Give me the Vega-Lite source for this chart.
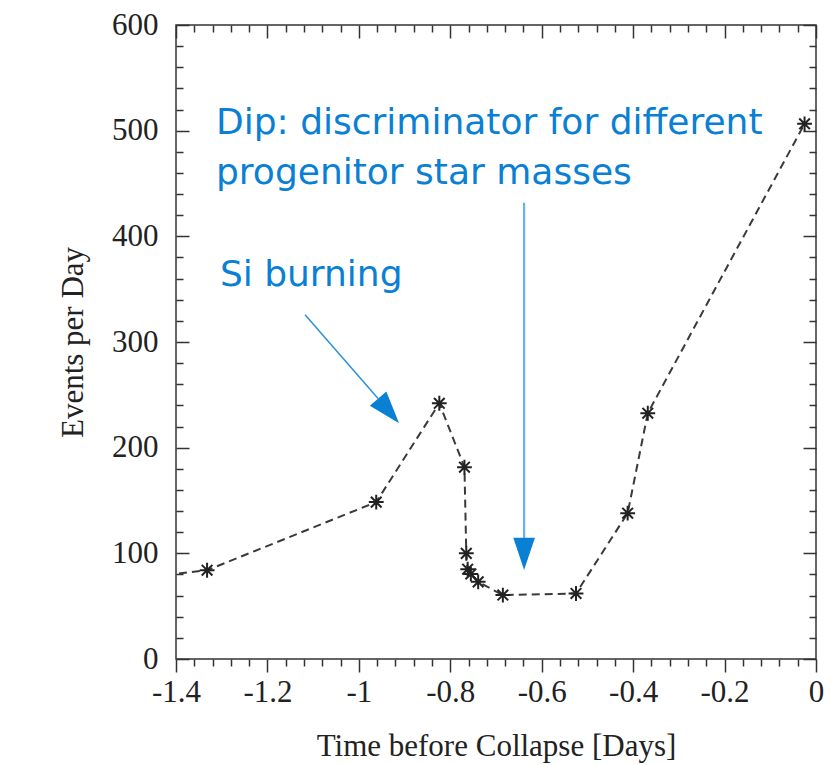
{
  "$schema": "https://vega.github.io/schema/vega-lite/v6.json",
  "width": 640,
  "height": 634,
  "autosize": {"type": "none"},
  "padding": {"left": 176, "top": 25, "right": 15, "bottom": 106},
  "background": "white",
  "view": {"stroke": "#333", "strokeWidth": 1.5},
  "config": {
    "axis": {
      "labelFont": "Liberation Serif",
      "titleFont": "Liberation Serif",
      "labelFontSize": 31,
      "titleFontSize": 31,
      "labelColor": "#222",
      "titleColor": "#222",
      "titleFontWeight": "normal",
      "domain": false,
      "grid": false,
      "ticks": true,
      "tickSize": -13,
      "tickColor": "#333",
      "tickWidth": 1.5,
      "labelFlush": false
    }
  },
  "datasets": {
    "series": [
      {"t": -1.45, "v": 78},
      {"t": -1.332, "v": 84},
      {"t": -0.962, "v": 148.5},
      {"t": -0.824, "v": 242},
      {"t": -0.769, "v": 181.5},
      {"t": -0.765, "v": 100},
      {"t": -0.762, "v": 85},
      {"t": -0.755, "v": 80.5},
      {"t": -0.739, "v": 73},
      {"t": -0.685, "v": 60.5},
      {"t": -0.525, "v": 62},
      {"t": -0.412, "v": 138},
      {"t": -0.368, "v": 232.6},
      {"t": -0.025, "v": 506.5}
    ],
    "labels": [
      {"label": "Dip: discriminator for different", "t": -1.3125, "v": 497},
      {"label": "progenitor star masses", "t": -1.3125, "v": 450},
      {"label": "Si burning", "t": -1.304, "v": 353}
    ],
    "dipShaft": [{"t": -0.6385, "v": 431.8, "t2": -0.6385, "v2": 112}],
    "dipHead": [{"t": -0.6385, "v": 99.5}],
    "siShaft": [{"t": -1.1177, "v": 325.8, "t2": -0.958, "v2": 246.5}],
    "siHead": [{"t": -0.935, "v": 234.8}]
  },
  "layer": [
    {
      "data": {"name": "series"},
      "mark": {"type": "line", "strokeDash": [8, 5], "color": "#3a3a3a", "strokeWidth": 2, "clip": true},
      "encoding": {
        "x": {
          "field": "t", "type": "quantitative",
          "scale": {"domain": [-1.4, 0], "nice": false, "zero": false},
          "axis": {
            "orient": "bottom",
            "title": "Time before Collapse [Days]",
            "values": [-1.4,-1.36,-1.32,-1.28,-1.24,-1.2,-1.16,-1.12,-1.08,-1.04,-1,-0.96,-0.92,-0.88,-0.84,-0.8,-0.76,-0.72,-0.68,-0.64,-0.6,-0.56,-0.52,-0.48,-0.44,-0.4,-0.36,-0.32,-0.28,-0.24,-0.2,-0.16,-0.12,-0.08,-0.04,0],
            "tickSize": 13,
            "tickDash": {"condition": {"test": "abs(datum.value*5 - round(datum.value*5)) < 0.001", "value": [20, 20]}, "value": [7, 20]},
            "labelExpr": "abs(datum.value*5 - round(datum.value*5)) < 0.001 ? '' + datum.value : ''",
            "labelPadding": 5,
            "titlePadding": 24
          }
        },
        "y": {
          "field": "v", "type": "quantitative",
          "scale": {"domain": [0, 600], "nice": false},
          "axis": {
            "orient": "left",
            "title": "Events per Day",
            "values": [0,20,40,60,80,100,120,140,160,180,200,220,240,260,280,300,320,340,360,380,400,420,440,460,480,500,520,540,560,580,600],
            "tickDash": {"condition": {"test": "datum.value % 100 === 0", "value": [20, 20]}, "value": [7, 20]},
            "labelExpr": "datum.value % 100 === 0 ? '' + datum.value : ''",
            "labelPadding": 31,
            "titlePadding": 22
          }
        }
      }
    },
    {
      "data": {"name": "series"},
      "transform": [{"filter": "datum.t >= -1.4"}],
      "mark": {"type": "point", "shape": "M-1,0L1,0M0,-1L0,1M-0.72,-0.72L0.72,0.72M-0.72,0.72L0.72,-0.72", "filled": false, "stroke": "#222", "strokeWidth": 2, "size": 220, "opacity": 1},
      "encoding": {
        "x": {
          "field": "t", "type": "quantitative",
          "axis": {
            "orient": "top", "title": null, "labels": false,
            "values": [-1.4,-1.36,-1.32,-1.28,-1.24,-1.2,-1.16,-1.12,-1.08,-1.04,-1,-0.96,-0.92,-0.88,-0.84,-0.8,-0.76,-0.72,-0.68,-0.64,-0.6,-0.56,-0.52,-0.48,-0.44,-0.4,-0.36,-0.32,-0.28,-0.24,-0.2,-0.16,-0.12,-0.08,-0.04,0],
            "tickDash": {"condition": {"test": "abs(datum.value*5 - round(datum.value*5)) < 0.001", "value": [20, 20]}, "value": [7, 20]}
          }
        },
        "y": {
          "field": "v", "type": "quantitative",
          "axis": {
            "orient": "right", "title": null, "labels": false,
            "values": [0,20,40,60,80,100,120,140,160,180,200,220,240,260,280,300,320,340,360,380,400,420,440,460,480,500,520,540,560,580,600],
            "tickDash": {"condition": {"test": "datum.value % 100 === 0", "value": [20, 20]}, "value": [7, 20]}
          }
        }
      }
    },
    {
      "data": {"name": "dipShaft"},
      "mark": {"type": "rule", "color": "#62b5ea", "strokeWidth": 2.2},
      "encoding": {
        "x": {"field": "t", "type": "quantitative", "axis": null},
        "y": {"field": "v", "type": "quantitative", "axis": null},
        "x2": {"field": "t2"},
        "y2": {"field": "v2"}
      }
    },
    {
      "data": {"name": "siShaft"},
      "mark": {"type": "rule", "color": "#2b92d8", "strokeWidth": 1.5},
      "encoding": {
        "x": {"field": "t", "type": "quantitative", "axis": null},
        "y": {"field": "v", "type": "quantitative", "axis": null},
        "x2": {"field": "t2"},
        "y2": {"field": "v2"}
      }
    },
    {
      "data": {"name": "dipHead"},
      "mark": {"type": "point", "shape": "M-0.67,-1L0.67,-1L0,1Z", "filled": true, "color": "#0a80d4", "size": 1043, "opacity": 1},
      "encoding": {
        "x": {"field": "t", "type": "quantitative", "axis": null},
        "y": {"field": "v", "type": "quantitative", "axis": null}
      }
    },
    {
      "data": {"name": "siHead"},
      "mark": {"type": "point", "shape": "M-0.67,-1L0.67,-1L0,1Z", "filled": true, "color": "#0a80d4", "size": 1043, "opacity": 1, "angle": 319.5},
      "encoding": {
        "x": {"field": "t", "type": "quantitative", "axis": null},
        "y": {"field": "v", "type": "quantitative", "axis": null}
      }
    },
    {
      "data": {"name": "labels"},
      "mark": {"type": "text", "align": "left", "baseline": "alphabetic", "font": "DejaVu Sans", "fontSize": 36, "color": "#0a80d4"},
      "encoding": {
        "x": {"field": "t", "type": "quantitative", "axis": null},
        "y": {"field": "v", "type": "quantitative", "axis": null},
        "text": {"field": "label"}
      }
    }
  ],
  "resolve": {"axis": {"x": "independent", "y": "independent"}}
}
